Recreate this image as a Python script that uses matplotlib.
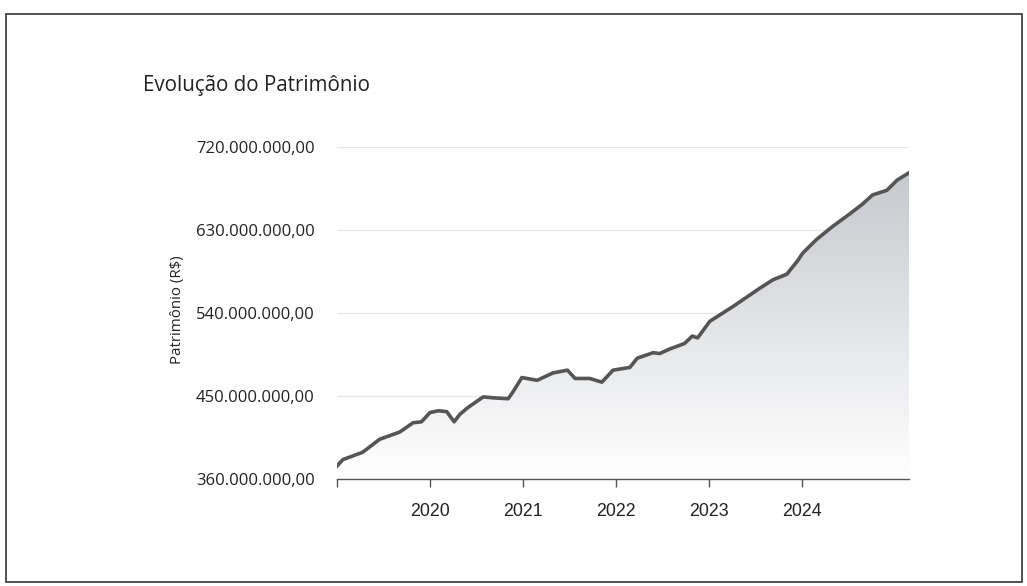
import matplotlib
matplotlib.use("Agg")
import matplotlib.pyplot as plt
import matplotlib.dates as mdates
import numpy as np
import pandas as pd
from matplotlib.patches import Rectangle
from matplotlib.colors import LinearSegmentedColormap

# ---- data (values in millions of R$) ----
dates = [
    "2019-01-01", "2019-01-24", "2019-04-12", "2019-06-17", "2019-09-05",
    "2019-10-27", "2019-11-29", "2020-01-01", "2020-02-03", "2020-03-07",
    "2020-04-05", "2020-04-27", "2020-05-27", "2020-07-28", "2020-09-06",
    "2020-11-03", "2020-11-21", "2020-12-27", "2021-02-25", "2021-04-28",
    "2021-06-24", "2021-07-24", "2021-09-20", "2021-11-06", "2021-12-20",
    "2022-02-24", "2022-03-25", "2022-05-27", "2022-06-21", "2022-07-31",
    "2022-09-27", "2022-10-27", "2022-11-17", "2023-01-04", "2023-04-05",
    "2023-07-20", "2023-09-09", "2023-11-02", "2023-12-13", "2024-01-04",
    "2024-02-28", "2024-05-01", "2024-07-09", "2024-08-25", "2024-10-04",
    "2024-11-29", "2025-01-08", "2025-02-24",
]
patrimonio_mi = [
    374, 381, 389, 403, 411,
    421, 422, 432, 434, 433,
    422, 430, 437, 449, 448,
    447, 454, 470, 467, 475,
    478, 469, 469, 465, 478,
    481, 491, 497, 496, 501,
    507, 515, 513, 531, 547,
    567, 576, 582, 596, 605,
    620, 634, 648, 658, 668,
    673, 684, 692,
]
year_ticks = ["2020", "2021", "2022", "2023", "2024"]
y_ticks_mi = [360, 450, 540, 630, 720]
title = "Evolução do Patrimônio"
ylabel = "Patrimônio (R$)"


def brl(v, pos=None):
    s = f"{v:,.2f}"
    return s.replace(",", "X").replace(".", ",").replace("X", ".")


fig = plt.figure(figsize=(10.27, 5.86), dpi=100)
fig.patch.set_facecolor("white")

ax = fig.add_axes([0.3281, 0.1826, 0.557, 0.5666])
x = mdates.date2num(pd.to_datetime(dates))
y = np.array(patrimonio_mi, dtype=float) * 1e6
ymin, ymax = y_ticks_mi[0] * 1e6, y_ticks_mi[-1] * 1e6

# gradient fill under the line
poly = ax.fill_between(x, y, ymin, facecolor="none", edgecolor="none")
cmap = LinearSegmentedColormap.from_list("g", ["#ffffff", "#c6c9ce"])
grad = np.linspace(0, 1, 256).reshape(-1, 1)
im = ax.imshow(grad, cmap=cmap, aspect="auto", origin="lower",
               extent=[x[0], x[-1], ymin, y.max()], zorder=1)
im.set_clip_path(poly.get_paths()[0], transform=ax.transData)

ax.plot(x, y, color="#555555", lw=2.6, zorder=3, solid_joinstyle="round")

ax.set_xlim(x[0], x[-1])
ax.set_ylim(ymin, ymax)

# grid
for v in y_ticks_mi[1:]:
    ax.axhline(v * 1e6, color="#e6e6e6", lw=0.9, zorder=0)

# y axis
ax.set_yticks([v * 1e6 for v in y_ticks_mi])
ax.set_yticklabels([brl(v * 1e6) for v in y_ticks_mi],
                   fontfamily="Open Sans", fontsize=12, color="#222222")
ax.tick_params(axis="y", length=0, pad=16)

# x axis
xt = [x[0]] + list(mdates.date2num(pd.to_datetime([f"{yy}-01-01" for yy in year_ticks])))
ax.set_xticks(xt)
ax.set_xticklabels([""] + year_ticks, fontfamily="Liberation Sans",
                   fontsize=12.8, color="#222222")
ax.tick_params(axis="x", length=6, width=1, color="#555555", pad=11)

for s in ["top", "right", "left"]:
    ax.spines[s].set_visible(False)
ax.spines["bottom"].set_color("#555555")
ax.spines["bottom"].set_linewidth(1)
ax.set_facecolor("none")

fig.text(178 / 1027, 1 - 310 / 586, ylabel, rotation=90, ha="center", va="center",
         fontfamily="Open Sans", fontsize=10.8, color="#222222")
fig.text(143 / 1027, 1 - 91 / 586, title, ha="left", va="baseline",
         fontfamily="Open Sans", fontsize=14.8, color="#222222")

fig.patches.append(Rectangle((6 / 1027, 1 - 582 / 586), (1022 - 6) / 1027,
                             (582 - 14) / 586, transform=fig.transFigure,
                             fill=False, ec="#333333", lw=1.2))

fig.savefig("out.png", dpi=100)
